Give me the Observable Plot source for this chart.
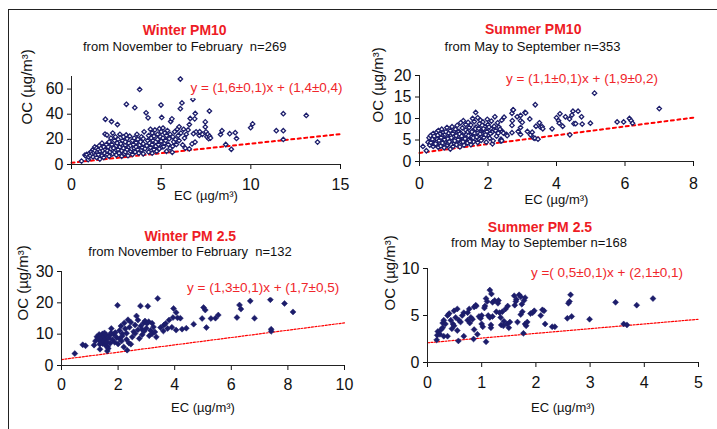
<!DOCTYPE html>
<html><head><meta charset="utf-8">
<script src="https://cdn.jsdelivr.net/npm/d3@7"></script>
<script src="https://cdn.jsdelivr.net/npm/@observablehq/plot@0.6"></script>
<style>
body{margin:0;background:#fff;}
#root{position:relative;width:717px;height:429px;overflow:hidden;font-family:"Liberation Sans",Arial,sans-serif;background:#fff;}
.abs{position:absolute;white-space:pre;line-height:1;}
.ttl{color:#ee1c25;font-weight:bold;font-size:14px;transform:translate(-50%,-50%);}
.sub{color:#111;font-size:13px;transform:translate(-50%,-50%);}
.eq{color:#f0262b;font-size:13.5px;background:#fff;padding:1px 2px 3px 2px;transform:translate(-50%,-50%);}
.frame{position:absolute;background:#222;}
.panel{position:absolute;}
</style></head><body><div id="root"></div>
<script>
// ---------- data (EC, OC in µg/m³) ----------
const winterPM10 = [
[0.56,2.7],[0.75,7.5],[0.8,6.8],[0.85,8],[0.93,3.8],[0.95,6],[1.0,9],
[1.05,7],[1.1,10],[1.15,8.5],[1.2,12],[1.2,6],[1.25,9.5],[1.3,11],[1.3,14],[1.35,7.5],[1.4,13],[1.4,5.5],[1.45,10],[1.5,8],[1.5,12],
[1.55,15],[1.58,4.3],[1.6,10.5],[1.65,13],[1.7,7],[1.7,17],[1.75,11],[1.8,5.6],[1.8,14],[1.85,9],[1.87,24.2],[1.89,36],[1.9,12],[1.95,16],[1.98,23.4],[2.0,8],[2.0,11],
[2.05,14],[2.1,18],[2.1,6.5],[2.15,10],[2.2,12.5],[2.2,21],[2.23,34.2],[2.25,16],[2.3,8.5],[2.3,25],[2.35,13],[2.4,19],[2.4,10],[2.45,22],[2.5,15],[2.5,7.5],[2.5,11.5],
[2.56,31.8],[2.55,17],[2.6,12],[2.6,20],[2.65,9],[2.7,14],[2.7,24],[2.75,16.5],[2.8,11],[2.8,6.5],[2.85,19],[2.9,13],[2.9,22],[2.95,8.5],[3.0,15.5],[3.0,10],[3.0,18],
[3.06,47.9],[3.05,23.5],[3.1,12],[3.1,20.5],[3.15,7],[3.2,14],[3.2,17],[3.25,22.5],[3.3,10.5],[3.3,15],[3.35,12.5],[3.4,19],[3.4,8],[3.45,16],[3.5,13],[3.5,21],[3.53,45.2],
[3.55,10],[3.6,17.5],[3.6,14],[3.65,24],[3.7,12],[3.7,20],[3.75,9],[3.8,59.7],[3.8,15.5],[3.85,18],[3.9,22],[3.9,11.5],[3.95,13.5],[4.0,16.5],[4.0,20.5],[4.0,8.5],
[4.05,26],[4.1,12.5],[4.16,41.1],[4.2,15],[4.25,19],[4.27,37.1],[4.3,23],[4.3,10],[4.35,17],[4.4,28],[4.4,13.5],[4.45,21],[4.5,9],[4.5,16],[4.5,25],
[4.55,19],[4.6,12],[4.6,22.5],[4.65,27.5],[4.7,14.5],[4.7,18],[4.75,10.5],[4.8,24],[4.8,20],[4.85,16],[4.9,28.5],[4.9,12.5],[4.95,22],[4.99,47.3],[5.0,18.5],[5.0,26],
[5.03,37.4],[5.05,14],[5.1,29],[5.1,21],[5.14,14.3],[5.2,17],[5.2,25],[5.25,19],[5.3,10.5],[5.3,23],[5.35,27],[5.4,16],[5.45,20.5],[5.5,13],[5.5,24],
[5.53,34.2],[5.6,36.3],[5.62,9.7],[5.64,14.5],[5.65,22],[5.7,18],[5.75,26],[5.8,20],[5.85,16],[5.9,28],[5.95,23],[6.0,30],[6.0,19],
[6.07,68],[6.07,44.4],[6.16,49],[6.1,25],[6.2,15.6],[6.25,28],[6.3,21],[6.35,13],[6.4,24],[6.5,27.5],[6.57,12.4],[6.57,31.8],[6.62,36.6],[6.72,16.4],[6.77,51.9],[6.8,24.5],[6.87,36.3],[6.89,17.8],[6.9,40.6],[6.95,26],
[7.13,23.1],[7.15,26.1],[7.3,24],[7.46,33.9],[7.46,29.9],[7.5,26],[7.55,22],[7.6,24],[7.65,20.5],[7.69,42.5],[7.7,22.5],[7.75,21],
[8.31,23.9],[8.39,26.9],[8.6,15.9],[8.82,24.5],[8.91,12.1],[9.13,25.3],[9.2,20.7],[9.99,29.3],[10.1,32.3],[11.42,26.9],[11.81,40.4],[11.81,26.9],[11.81,19.9],[13.09,39],[13.72,17.8]
];
const summerPM10 = [
[0.1,3.5],[0.2,2.5],
[0.25,4.5],[0.28,5.5],[0.3,3.8],[0.32,6],[0.35,4.9],[0.38,5.2],[0.4,3.5],[0.4,6.5],[0.42,4.2],
[0.45,5.6],[0.48,3.9],[0.5,6.8],[0.5,4.6],[0.52,5.2],[0.55,3.3],[0.55,7.2],[0.58,4.4],[0.6,5.8],[0.6,6.4],
[0.62,3.6],[0.65,4.9],[0.65,7.5],[0.68,5.4],[0.7,4.1],[0.7,6.8],[0.72,3.2],[0.75,5.9],[0.75,6.3],[0.78,4.6],[0.8,7.9],[0.8,5.1],
[0.82,3.8],[0.85,6.6],[0.85,4.3],[0.88,5.5],[0.9,7.2],[0.9,2.9],[0.92,6],[0.95,4.9],[0.95,8.1],[0.98,3.5],[1.0,5.7],[1.0,6.9],
[1.02,4.2],[1.05,7.5],[1.05,5.2],[1.08,3.9],[1.1,6.2],[1.1,8.4],[1.12,4.7],[1.15,5.8],[1.15,7],[1.18,3.4],[1.2,6.6],[1.2,9],
[1.22,4.5],[1.25,5.4],[1.25,7.8],[1.28,9.5],[1.3,6],[1.3,3.8],[1.32,4.9],[1.35,7.3],[1.35,8.6],[1.38,5.6],[1.4,6.8],[1.4,4.3],
[1.42,9.1],[1.45,5.1],[1.45,7.9],[1.48,6.3],[1.5,3.9],[1.5,8.5],[1.52,5.8],[1.55,7.1],[1.55,10],[1.58,4.6],[1.6,6.6],[1.6,9.3],[1.62,5.3],
[1.64,11.4],[1.65,8],[1.68,7.4],[1.7,4.4],[1.7,10.2],[1.72,6],[1.75,8.8],[1.75,5.2],[1.78,9.6],[1.8,7],[1.8,4.9],
[1.82,6.5],[1.85,9.2],[1.88,5.6],[1.9,8.1],[1.92,7.3],[1.95,4.5],[1.98,9.8],[2.0,6.1],[2.0,8.6],
[2.05,5.4],[2.08,7.7],[2.1,9.4],[2.12,6.8],[2.13,4.1],[2.15,4.8],[2.18,8.2],[2.2,10.4],[2.22,7.2],[2.25,5.9],[2.28,9],[2.3,6.6],[2.32,8],[2.35,7.5],[2.38,5.2],[2.4,9.6],[2.42,7],
[0.33,4.4],[0.43,5.9],[0.47,4.1],[0.53,6.1],[0.57,4.9],[0.63,5.6],[0.67,4.3],[0.73,5.1],[0.77,6.9],[0.83,5.3],[0.87,4.6],[0.93,5.5],[0.97,6.5],[1.03,4.8],[1.07,6],[1.13,5.1],[1.17,6.4],[1.23,5.9],[1.27,4.6],[1.33,5.3],[1.37,6.2],[1.43,6],[1.47,4.7],[1.53,6.9],[1.57,5.5],[1.63,7.6],[1.67,5.7],[1.73,7.7],[1.77,6.4],[1.83,8.4],[1.87,7.6],[1.93,6.2],[1.97,7],[2.03,8],[2.07,6.5],
[2.37,4.8],[2.4,4.8],[2.45,6.6],[2.47,10.3],[2.54,6.3],[2.56,6],[2.7,11.2],[2.7,8.4],[2.7,6.7],[2.71,9.5],[2.73,12],[2.74,12],[2.85,10.4],[2.88,7],[2.95,10.7],[2.95,9.5],[2.95,7.9],[2.95,6.3],[3.0,9.1],[3.08,11.4],[3.1,11.3],[3.15,7],[3.22,9.9],[3.24,6.2],[3.29,6.8],[3.33,5.5],[3.37,5.4],[3.38,13.2],[3.4,8.2],[3.46,5.2],[3.5,9],[3.53,8],[3.58,8.1],[3.6,7.6],[3.87,7.6],[4.0,10.2],[4.06,9.5],[4.08,8.9],[4.1,11.1],[4.18,8.2],[4.26,10.4],[4.38,9.9],[4.39,6.2],[4.45,10.8],[4.48,11.7],[4.51,8.8],[4.56,8.8],[4.63,11.7],[4.73,10.4],[4.75,8.7],[4.99,8.9],[5.11,15.9],[5.77,9.2],[5.96,9.2],[6.13,10],[6.18,9.5],[6.22,8.9],[7.0,12.3]
];
const winterPM25 = [
[0.47,3.8],[0.75,6.6],[0.85,6.3],[1.15,6.5],[1.2,7.8],[1.25,9.2],[1.3,8.5],[1.33,9.9],[1.35,6.8],[1.36,5.2],[1.38,7.6],[1.4,9.5],[1.42,8.7],[1.45,10.1],[1.45,7],[1.48,7.9],[1.5,9.3],[1.52,10.4],[1.55,8.4],[1.55,6.5],[1.58,9.8],[1.6,7.5],[1.62,4.6],[1.63,6],[1.65,5.4],[1.67,8.8],[1.7,9.6],[1.72,7.1],[1.75,10.4],[1.76,11.8],[1.8,8.2],[1.85,9.9],[1.88,7.4],[1.9,10.5],[1.95,8.9],[1.98,19.2],[2.0,6.9],
[2.05,11.2],[2.05,8.5],[2.1,12.6],[2.12,7.8],[2.15,10.1],[2.15,9.4],[2.2,5.9],[2.22,13.6],[2.25,11.7],[2.3,8.3],[2.3,10.3],[2.32,4.9],[2.35,14.6],[2.38,7.2],[2.4,12.2],[2.45,13.8],[2.45,6.8],[2.5,9.1],[2.55,10.8],[2.6,12.9],[2.6,10.2],[2.65,15.8],[2.7,11.4],[2.7,14.5],[2.75,8.6],[2.79,19],[2.8,12.6],[2.85,9.8],[2.85,11.5],[2.9,13.6],[2.92,10.9],[2.95,14.2],[3.0,11.9],[3.02,13.4],[3.05,18.9],[3.08,14],[3.1,9.5],[3.15,11.2],[3.2,10.1],[3.2,13.5],[3.25,12.3],[3.3,10.7],[3.35,9.1],[3.4,21.4],[3.5,12.1],
[3.6,11],[3.62,12.9],[3.68,13.4],[3.75,11.8],[3.8,14.5],[3.9,12.2],[3.94,15.3],[3.96,18.2],[4.05,11.3],[4.05,16.9],[4.1,15.2],[4.2,15.1],[4.26,11.6],[4.41,11.9],[4.67,13.2],[4.97,15],[5.02,18.5],[5.08,17.7],[5.12,12.1],[5.28,15],[5.44,15.1],[5.54,16.1],[6.2,15.3],[6.29,19.3],[6.34,18],[6.67,20.6],[6.82,15.1],[7.38,21],[7.41,11.6],[7.41,10.9],[7.88,19.8],[8.18,17.1]
];
const summerPM25 = [
[0.17,2.4],[0.18,2.9],[0.19,3.3],[0.23,3],[0.25,3.5],[0.28,3.7],[0.28,4.2],[0.3,4.5],[0.3,2.8],[0.33,4.1],[0.37,2.8],[0.37,5],[0.4,5.2],
[0.43,4.5],[0.45,3.6],[0.47,4.1],[0.49,3.9],[0.49,5.5],[0.52,4.8],[0.55,5.7],[0.55,3.4],[0.57,2.3],[0.58,4.5],[0.61,4.3],[0.64,5],[0.67,5.3],[0.67,2.8],
[0.74,4.5],[0.74,5.3],[0.77,5.7],[0.78,4.2],[0.8,4.8],[0.83,4.6],[0.85,2.5],[0.86,5.9],[0.86,3.5],[0.89,6.1],[0.9,6],[0.92,3],
[0.95,4.9],[0.98,4.7],[1.0,5],[1.0,4.1],[1.02,3.8],[1.05,5.8],[1.06,6],[1.08,6.8],[1.08,2.2],[1.1,6.5],[1.12,5],[1.15,7.7],[1.15,4.8],[1.17,4],[1.17,3.7],[1.18,7.3],[1.2,6.4],[1.2,4.9],
[1.24,6.6],[1.27,5.4],[1.3,6.3],[1.31,6.6],[1.33,5.3],[1.35,4.8],[1.36,4],[1.38,5.4],[1.4,3.9],[1.41,4.4],[1.44,5.7],[1.47,4.1],[1.48,6],[1.5,3.7],[1.52,4.3],
[1.6,7.1],[1.61,6.1],[1.63,6.5],[1.64,6.7],[1.66,4.3],[1.69,7.2],[1.72,7],[1.72,5.1],[1.74,6.2],[1.75,5.4],[1.77,3.1],[1.78,6.6],[1.8,6.9],[1.8,4.1],[1.82,3.9],[1.84,4.3],
[1.9,5.2],[1.94,5.3],[1.97,5.5],[2.09,5],[2.12,5.6],[2.15,5.5],[2.17,4.1],[2.3,3.8],[2.35,3.8],
[2.58,4.7],[2.6,6.3],[2.62,6.5],[2.64,7.2],[2.66,4.9],[2.99,4.6],[3.47,6.4],[3.62,4.1],[3.68,4],[3.86,6.1],[4.16,6.8]
];
// regression lines as drawn (EC, OC at both ends of the axis)
const fitWinterPM10 = [[0,1.4],[15,24.2]];
const fitSummerPM10 = [[0,2.0],[8,10.2]];
const fitWinterPM25 = [[0,1.9],[10,13.6]];
const fitSummerPM25 = [[0,2.1],[5,4.6]];
// texts
const titles = ["Winter PM10","Summer PM10","Winter PM 2.5","Summer PM 2.5"];
const subtitles = ["from November to February  n=269","from May to September n=353","from November to February  n=132","from May to September n=168"];
const equations = ["y = (1,6±0,1)x + (1,4±0,4)","y = (1,1±0,1)x + (1,9±0,2)","y = (1,3±0,1)x + (1,7±0,5)","y =( 0,5±0,1)x + (2,1±0,1)"];
const xLabel = "EC (µg/m³)";
const yLabel = "OC (µg/m³)";
// axis ticks
const xTicks = [[0,5,10,15],[0,2,4,6,8],[0,2,4,6,8,10],[0,1,2,3,4,5]];
const yTicks = [[0,20,40,60],[0,5,10,15,20],[0,10,20,30],[0,5,10]];
const xMax = [15,8,10,5];
const yMax = [70,20,30,10];

// ---------- layout ----------
const root = document.getElementById("root");
const layout = [
  {left:10, top:60, w:350, h:150, ml:61, mr:20, mt:16, mb:46, tp:9.5, xdy:31, ydx:-44, ydy:4, tx:184.7, ty:29.5, sx:184.7, sy:45.7, ex:266.5, ey:89},
  {left:365, top:60, w:350, h:150, ml:54, mr:22, mt:15, mb:49, tp:11.5, xdy:38, ydx:-41, ydy:4, tx:533.2, ty:29.3, sx:532.5, sy:46, ex:582, ey:80.3},
  {left:10, top:255, w:350, h:170, ml:51, mr:16, mt:16, mb:60, tp:8.5, xdy:42, ydx:-38, ydy:2, tx:190.3, ty:235.7, sx:190, sy:251, ex:263.2, ey:288.7},
  {left:365, top:255, w:350, h:170, ml:62, mr:17, mt:13, mb:63, tp:9, xdy:45, ydx:-37.5, ydy:-5, tx:540, ty:226.7, sx:539, sy:242.3, ex:607, ey:274.3}
];
const datasets = [winterPM10, summerPM10, winterPM25, summerPM25];
const fits = [fitWinterPM10, fitSummerPM10, fitWinterPM25, fitSummerPM25];
const hollow = [true, true, false, false];

function addDiv(cls, text, x, y){
  const d = document.createElement("div");
  d.className = "abs " + cls;
  d.textContent = text;
  d.style.left = x + "px"; d.style.top = y + "px";
  root.appendChild(d);
}
// outer frame lines (top and left)
const ft = document.createElement("div"); ft.className="frame"; ft.style.cssText="left:8px;top:9px;width:709px;height:1px;"; root.appendChild(ft);
const fl = document.createElement("div"); fl.className="frame"; fl.style.cssText="left:8px;top:9px;width:1px;height:420px;"; root.appendChild(fl);

const navy = "#1c1d6b";
layout.forEach((L, i) => {
  const isHollow = hollow[i];
  const chart = Plot.plot({
    width: L.w, height: L.h,
    marginLeft: L.ml, marginRight: L.mr, marginTop: L.mt, marginBottom: L.mb,
    style: {background: "transparent", fontFamily: "'Liberation Sans', Arial, sans-serif", fontSize: "16px", color: "#111", overflow: "visible"},
    x: {domain: [0, xMax[i]], ticks: xTicks[i], tickFormat: d => String(d), tickSize: 5, tickPadding: L.tp, label: null},
    y: {domain: [0, yMax[i]], ticks: yTicks[i], tickFormat: d => String(d), tickSize: 4, tickPadding: 4, label: null},
    marks: [
      Plot.line(fits[i], {x: d => d[0], y: d => d[1], stroke: "#ff0000",
        strokeWidth: isHollow ? 2 : 1.2, strokeDasharray: isHollow ? "3,3.5" : "2,1.5"}),
      Plot.dot(datasets[i], {x: d => d[0], y: d => d[1], symbol: "diamond2",
        r: isHollow ? 2.0 : 2.7,
        stroke: navy, strokeWidth: isHollow ? 1.3 : 0.5,
        fill: isHollow ? "white" : navy}),
      Plot.ruleX([0], {stroke: "#222"}),
      Plot.ruleY([0], {stroke: "#222"}),
      Plot.text([xLabel], {text: d => d, frameAnchor: "bottom", dy: L.xdy, lineAnchor: "middle", fontSize: 13, fill: "#111"}),
      Plot.text([yLabel], {text: d => d, frameAnchor: "left", dx: L.ydx, dy: L.ydy, rotate: -90, lineAnchor: "middle", fontSize: 15, fill: "#111"})
    ]
  });
  const wrap = document.createElement("div");
  wrap.className = "panel";
  wrap.style.left = L.left + "px"; wrap.style.top = L.top + "px";
  wrap.appendChild(chart);
  root.appendChild(wrap);
  addDiv("ttl", titles[i], L.tx, L.ty);
  addDiv("sub", subtitles[i], L.sx, L.sy);
  addDiv("eq", equations[i], L.ex, L.ey);
});
</script></body></html>
